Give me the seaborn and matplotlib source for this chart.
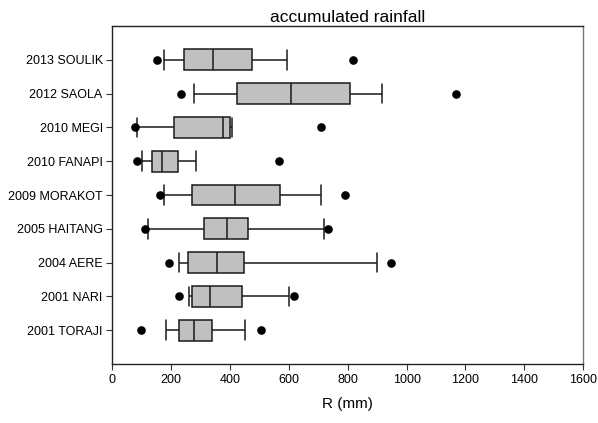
import numpy as np
import pandas as pd
import matplotlib
matplotlib.use("Agg")
import matplotlib.pyplot as plt
import seaborn as sns

### Tufões (de cima para baixo)
tufoes = ["2013 SOULIK", "2012 SAOLA", "2010 MEGI", "2010 FANAPI", "2009 MORAKOT",
          "2005 HAITANG", "2004 AERE", "2001 NARI", "2001 TORAJI"]

### Estatísticas (mm)
ponto_baixo = [152, 232, 77, 83, 163, 110, 192, 225, 96]        # 5%
bigode_baixo = [174, 278, 84, 101, 177, 122, 225, 260, 183]     # 10%
q1 = [242, 423, 208, 133, 271, 313, 256, 269, 228]
mediana = [343, 607, 375, 169, 416, 390, 355, 333, 276]
q3 = [475, 806, 400, 224, 570, 462, 448, 440, 339]
bigode_alto = [592, 918, 406, 283, 710, 718, 901, 599, 450]     # 90%
ponto_alto = [817, 1169, 710, 567, 791, 733, 948, 617, 506]     # 95%

### Montando tabelas
caixas = pd.DataFrame({
    "Tufão": np.repeat(tufoes, 5),
    "R": np.column_stack([bigode_baixo, q1, mediana, q3, bigode_alto]).ravel(),
})
pontos = pd.DataFrame({
    "Tufão": tufoes * 2,
    "R": ponto_baixo + ponto_alto,
})

### Visualização Gráfica
sns.set_style("ticks")
plt.rcParams["font.family"] = ["Liberation Sans", "DejaVu Sans"]
plt.rcParams["text.color"] = "black"

fig = plt.figure(figsize=(5.98, 4.23), dpi=100)
ax = fig.add_axes([0.188, 0.1395, 0.787, 0.799])

sns.boxplot(data=caixas, x="R", y="Tufão", order=tufoes, whis=(0, 100),
            width=0.62, color="#c0c0c0", saturation=1, linecolor="#1a1a1a",
            linewidth=1.1, capwidths=0.58, ax=ax)
sns.stripplot(data=pontos, x="R", y="Tufão", order=tufoes, jitter=False,
              color="black", size=6.2, linewidth=0, ax=ax)

ax.set_xlim(0, 1600)
ax.set_ylim(len(tufoes), -1)
ax.set_xticks(np.arange(0, 1601, 200))
ax.set_title("accumulated rainfall", fontsize=12.5, pad=3, color="black")
ax.set_xlabel("R (mm)", fontsize=11, labelpad=8, color="black")
ax.set_ylabel("")
ax.tick_params(axis="both", labelsize=9, length=4, width=0.8, color="#333333",
               labelcolor="black", pad=3)
for lado in ax.spines.values():
    lado.set_visible(True)
    lado.set_linewidth(1.0)
    lado.set_color("#222222")
ax.spines["right"].set_color("#777777")

fig.savefig("out.png", dpi=100)
